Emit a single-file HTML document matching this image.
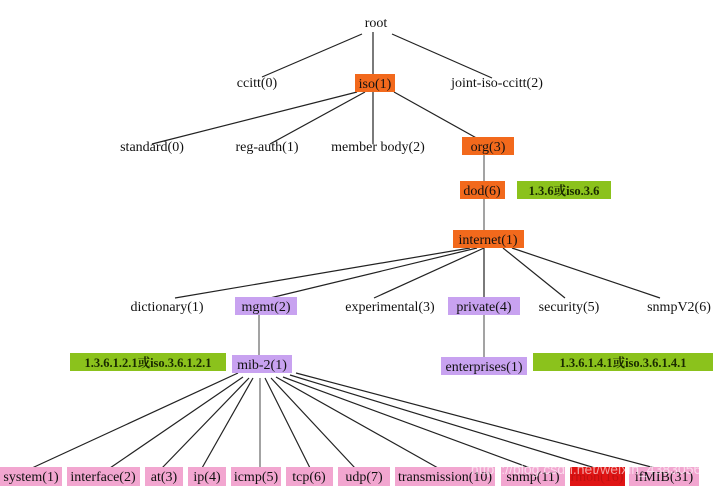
<!DOCTYPE html>
<html><head><meta charset="utf-8"><style>
html,body{margin:0;padding:0;background:#fff;}
svg{display:block;font-family:"Liberation Serif","Noto Serif CJK SC",serif;}
</style></head><body>
<svg width="716" height="491" viewBox="0 0 716 491" xmlns="http://www.w3.org/2000/svg">
<g stroke="#222" stroke-width="1.2" fill="none">
<line x1="362" y1="34" x2="262" y2="77"/>
<line x1="373" y1="32" x2="373" y2="77"/>
<line x1="392" y1="34" x2="492" y2="78"/>
<line x1="357" y1="92" x2="152" y2="144"/>
<line x1="365" y1="92" x2="270" y2="144"/>
<line x1="373" y1="92" x2="373" y2="144"/>
<line x1="394" y1="92" x2="480" y2="140"/>
<line x1="484" y1="155" x2="484" y2="182" stroke="#666"/>
<line x1="484" y1="199" x2="484" y2="231" stroke="#666"/>
<line x1="470" y1="248" x2="175" y2="298"/>
<line x1="477" y1="248" x2="270" y2="298"/>
<line x1="484" y1="248" x2="374" y2="298"/>
<line x1="484" y1="248" x2="484" y2="298"/>
<line x1="503" y1="248" x2="565" y2="298"/>
<line x1="512" y1="248" x2="660" y2="298"/>
<line x1="484" y1="315" x2="484" y2="357" stroke="#666"/>
<line x1="259" y1="315" x2="259" y2="355" stroke="#666"/>
<line x1="238" y1="373" x2="32" y2="468"/>
<line x1="243" y1="377" x2="110" y2="468"/>
<line x1="249" y1="378" x2="162" y2="468"/>
<line x1="253" y1="378" x2="202" y2="468"/>
<line x1="260" y1="378" x2="260" y2="468" stroke="#666"/>
<line x1="265" y1="378" x2="310" y2="468"/>
<line x1="271" y1="378" x2="355" y2="468"/>
<line x1="276" y1="377" x2="438" y2="468"/>
<line x1="283" y1="377" x2="530" y2="468"/>
<line x1="290" y1="375" x2="595" y2="468"/>
<line x1="296" y1="373" x2="655" y2="468"/>
</g>
<g fill="#f2691c">
<rect x="355" y="74" width="40" height="18"/>
<rect x="462" y="137" width="52" height="18"/>
<rect x="460" y="181" width="45" height="18"/>
<rect x="453" y="230" width="71" height="18"/>
</g>
<g fill="#c8a2f0">
<rect x="235" y="297" width="62" height="18"/>
<rect x="448" y="297" width="72" height="18"/>
<rect x="232" y="355" width="60" height="18"/>
<rect x="441" y="357" width="86" height="18"/>
</g>
<g fill="#8bc21c">
<rect x="517" y="181" width="94" height="18"/>
<rect x="70" y="353" width="156" height="18"/>
<rect x="533" y="353" width="180" height="18"/>
</g>
<g fill="#f2a6d0">
<rect x="0" y="467" width="62" height="19"/>
<rect x="67" y="467" width="73" height="19"/>
<rect x="145" y="467" width="38" height="19"/>
<rect x="188" y="467" width="38" height="19"/>
<rect x="231" y="467" width="50" height="19"/>
<rect x="286" y="467" width="47" height="19"/>
<rect x="338" y="467" width="52" height="19"/>
<rect x="395" y="467" width="100" height="19"/>
<rect x="501" y="467" width="64" height="19"/>
<rect x="629" y="467" width="70" height="19"/>
</g>
<rect x="570" y="467" width="55" height="19" fill="#e01414"/>
<g font-size="14" fill="#111" text-anchor="middle">
<text x="376" y="27">root</text>
<text x="257" y="87">ccitt(0)</text>
<text x="375" y="88">iso(1)</text>
<text x="497" y="87">joint-iso-ccitt(2)</text>
<text x="152" y="151">standard(0)</text>
<text x="267" y="151">reg-auth(1)</text>
<text x="378" y="151">member body(2)</text>
<text x="488" y="151">org(3)</text>
<text x="482" y="195">dod(6)</text>
<text x="488" y="244">internet(1)</text>
<text x="167" y="311">dictionary(1)</text>
<text x="266" y="311">mgmt(2)</text>
<text x="390" y="311">experimental(3)</text>
<text x="484" y="311">private(4)</text>
<text x="569" y="311">security(5)</text>
<text x="679" y="311">snmpV2(6)</text>
<text x="262" y="369">mib-2(1)</text>
<text x="484" y="371">enterprises(1)</text>
<text x="31" y="481">system(1)</text>
<text x="103" y="481">interface(2)</text>
<text x="164" y="481">at(3)</text>
<text x="207" y="481">ip(4)</text>
<text x="256" y="481">icmp(5)</text>
<text x="309" y="481">tcp(6)</text>
<text x="364" y="481">udp(7)</text>
<text x="445" y="481">transmission(10)</text>
<text x="533" y="481">snmp(11)</text>
<text x="597" y="481" fill="#c01010">rmon(16)</text>
<text x="664" y="481">ifMIB(31)</text>
</g>
<g font-size="12.5" font-weight="bold" fill="#1a2a00" text-anchor="middle">
<text x="564" y="195">1.3.6或iso.3.6</text>
<text x="148" y="367">1.3.6.1.2.1或iso.3.6.1.2.1</text>
<text x="623" y="367">1.3.6.1.4.1或iso.3.6.1.4.1</text>
</g>
<text x="590" y="474" font-family="Liberation Sans, sans-serif" font-size="14" fill="#fff" fill-opacity="0.6" text-anchor="middle">https://blog.csdn.net/weixin_43830563</text>
</svg>
</body></html>
